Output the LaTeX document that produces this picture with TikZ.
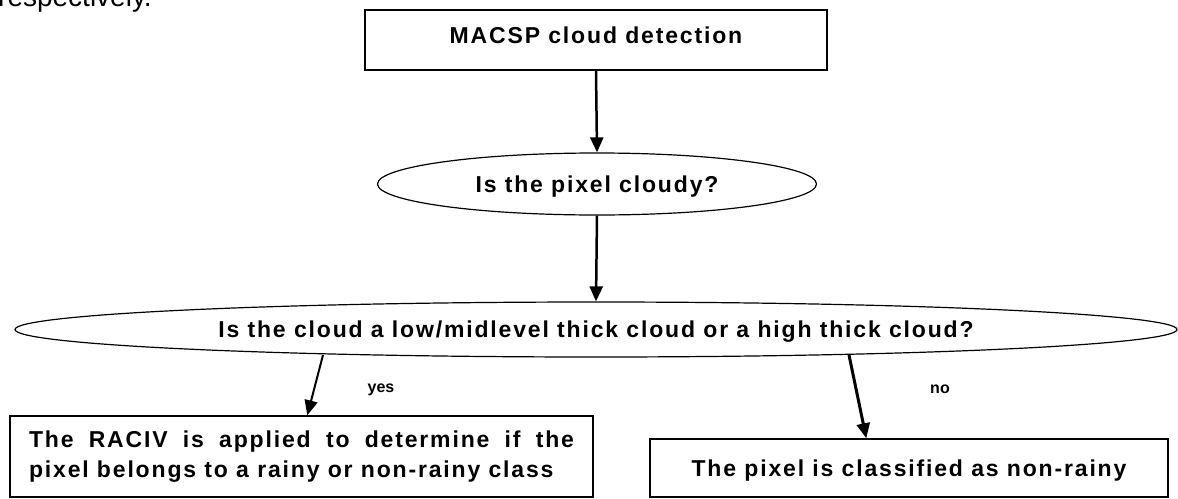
\documentclass[tikz,border=0pt]{standalone}
\usepackage{fontspec}
\setmainfont{Liberation Sans}
\newfontfamily\spaced[LetterSpace=8.0]{Liberation Sans}
\usetikzlibrary{shapes.geometric,arrows.meta,calc}
\begin{document}
\begin{tikzpicture}[x=1pt,y=-1pt,
  txt/.style={font=\spaced\bfseries\fontsize{23}{30}\selectfont},
  rectbox/.style={draw, line width=1.4pt, inner sep=0pt, txt},
  ell/.style={draw, ellipse, line width=1.2pt, inner sep=0pt, txt, text height=16.5pt, text depth=0pt},
  arr/.style={line width=2.5pt, -{Triangle[length=15pt,width=13pt]}},
  lab/.style={font=\bfseries\fontsize{16}{18}\selectfont}]
\useasboundingbox (0,0) rectangle (1178,498);
\node[anchor=base west, inner sep=0pt, font=\fontsize{28}{30}\selectfont] (resp) at (-2,6) {respectively.};
\node[rectbox, minimum width=462, minimum height=60, text depth=10pt] (det) at (596,40) {MACSP cloud detection};
\node[ell, minimum width=439, minimum height=62] (cloudy) at (597,184) {Is the pixel cloudy?};
\node[ell, minimum width=1162, minimum height=55] (thick) at (596,329.5) {Is the cloud a low/midlevel thick cloud or a high thick cloud?};
\node[rectbox, minimum width=583, minimum height=81, text width=545, align=justify] (raciv) at (301.5,456.5) {The RACIV is applied to determine if the\linebreak pixel belongs to a rainy or non-rainy class};
\node[rectbox, minimum width=518, minimum height=58, text height=16.5pt, text depth=0pt] (nonr) at (909,468) {The pixel is classified as non-rainy};
\draw[arr] (det.south) -- (cloudy.north);
\draw[arr] (cloudy.south) -- (thick.north);
\draw[arr, line width=2pt] ($(thick.center)+(-273,25.5)$) -- ($(raciv.north west)+(298,0)$);
\draw[arr, line width=3pt] ($(thick.center)+(253,25.5)$) -- ($(nonr.north west)+(217,0)$);
\node[lab] (yes) at (381,390) {yes};
\node[lab] (no) at (940,389) {no};
\end{tikzpicture}
\end{document}
